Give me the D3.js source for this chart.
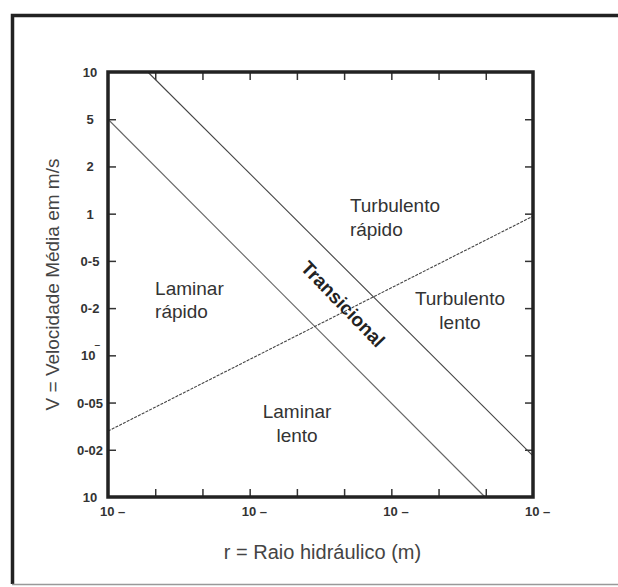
<!DOCTYPE html>
<html>
<head>
<meta charset="utf-8">
<script src="https://cdn.jsdelivr.net/npm/d3@7"></script>
<style>
  body { margin: 0; background: #fff; }
  svg { display: block; font-family: "Liberation Sans", Arial, Helvetica, sans-serif; }
</style>
</head>
<body>
<div id="chart"></div>
<script>
// r = hydraulic radius (m), V = mean velocity (m/s), both on log axes
const rDomain = [1e-4, 1e-1];
const vDomain = [0.01, 10];
const rTickLabels = ["10 –", "10 –", "10 –", "10 –"];
const vTickLabels = ["10", "5", "2", "1", "0-5", "0-2", "10", "0-05", "0-02", "10"];
const vTickSuperscript = [false, false, false, false, false, false, true, false, false, false];

const upperBoundary = [{ r: 1.91e-4, v: 10 }, { r: 0.1, v: 0.0195 }];
const lowerBoundary = [{ r: 1e-4, v: 4.64 }, { r: 0.0458, v: 0.01 }];
const froudeLine = [{ r: 1e-4, v: 0.0292 }, { r: 0.1, v: 0.96 }];

const regionLabels = [
  { lines: ["Turbulento", "rápido"], r: 5.1e-3, v: 1.02, anchor: "start" },
  { lines: ["Turbulento", "lento"], r: 3.05e-2, v: 0.226, anchor: "middle" },
  { lines: ["Laminar", "rápido"], r: 2.15e-4, v: 0.267, anchor: "start" },
  { lines: ["Laminar", "lento"], r: 2.16e-3, v: 0.0361, anchor: "middle" }
];
const transitionLabel = { text: "Transicional", r: 4.56e-3, v: 0.23 };

const width = 618;
const height = 587;
const plot = { left: 108, right: 533, top: 72, bottom: 497 };

const svg = d3.select("#chart")
  .append("svg")
  .attr("width", width)
  .attr("height", height);

// outer frame
svg.append("path")
  .attr("d", `M${width + 10},15.5 H12.5 V584`)
  .attr("fill", "none")
  .attr("stroke", "#222")
  .attr("stroke-width", 3.5);

svg.append("line")
  .attr("x1", 12).attr("x2", width + 10)
  .attr("y1", 584.5).attr("y2", 584.5)
  .attr("stroke", "#999")
  .attr("stroke-width", 1.5);

const x = d3.scaleLog().domain(rDomain).range([plot.left, plot.right]);
const y = d3.scaleLog().domain(vDomain).range([plot.bottom, plot.top]);

// evenly spaced thirds of a decade
const rTicks = d3.range(10).map(i => 10 ** (-4 + i / 3));
const vTicks = d3.range(10).map(i => 10 ** (1 - i / 3));
const rInner = rTicks.slice(1, -1);
const vInner = vTicks.slice(1, -1);

const tickStyle = g => {
  g.select(".domain").remove();
  g.selectAll(".tick line").attr("stroke", "#333").attr("stroke-width", 1.5);
  g.selectAll(".tick text").remove();
};

svg.append("g")
  .attr("transform", `translate(${plot.left},0)`)
  .call(d3.axisLeft(y).tickValues(vInner).tickSize(-8))
  .call(tickStyle);

svg.append("g")
  .attr("transform", `translate(${plot.right},0)`)
  .call(d3.axisRight(y).tickValues(vInner).tickSize(-8))
  .call(tickStyle);

svg.append("g")
  .attr("transform", `translate(0,${plot.top})`)
  .call(d3.axisTop(x).tickValues(rInner).tickSize(-8))
  .call(tickStyle);

svg.append("g")
  .attr("transform", `translate(0,${plot.bottom})`)
  .call(d3.axisBottom(x).tickValues(rInner).tickSize(-8))
  .call(tickStyle);

// y tick labels
const yLabels = svg.append("g")
  .attr("font-size", 13)
  .attr("font-weight", 700)
  .attr("fill", "#333")
  .attr("text-anchor", "middle")
  .selectAll("text")
  .data(vTicks)
  .join("text")
  .attr("x", plot.left - 18)
  .attr("y", d => y(d) + 5)
  .text((d, i) => vTickLabels[i]);

yLabels.filter((d, i) => vTickSuperscript[i])
  .append("tspan")
  .attr("dy", -6)
  .attr("font-size", 11)
  .text("‾");

// x tick labels (decades only)
svg.append("g")
  .attr("font-size", 13)
  .attr("font-weight", 700)
  .attr("fill", "#333")
  .selectAll("text")
  .data(rTicks.filter((d, i) => i % 3 === 0))
  .join("text")
  .attr("x", d => x(d) - 8)
  .attr("y", plot.bottom + 19)
  .text((d, i) => rTickLabels[i]);

// boundary lines
const line = d3.line().x(d => x(d.r)).y(d => y(d.v));

const chartArea = svg.append("g");

chartArea.append("path")
  .datum(upperBoundary)
  .attr("d", line)
  .attr("fill", "none")
  .attr("stroke", "#444")
  .attr("stroke-width", 1.1);

chartArea.append("path")
  .datum(lowerBoundary)
  .attr("d", line)
  .attr("fill", "none")
  .attr("stroke", "#666")
  .attr("stroke-width", 1.1);

chartArea.append("path")
  .datum(froudeLine)
  .attr("d", line)
  .attr("fill", "none")
  .attr("stroke", "#444")
  .attr("stroke-width", 1.1)
  .attr("stroke-dasharray", "3,1.2");

// plot frame
svg.append("rect")
  .attr("x", plot.left)
  .attr("y", plot.top)
  .attr("width", plot.right - plot.left)
  .attr("height", plot.bottom - plot.top)
  .attr("fill", "none")
  .attr("stroke", "#222")
  .attr("stroke-width", 3.5);

// region labels
const regions = svg.append("g")
  .attr("font-size", 19)
  .attr("fill", "#333")
  .selectAll("text")
  .data(regionLabels)
  .join("text")
  .attr("text-anchor", d => d.anchor)
  .attr("transform", d => `translate(${x(d.r)},${y(d.v)})`);

regions.selectAll("tspan")
  .data(d => d.lines)
  .join("tspan")
  .attr("x", 0)
  .attr("y", (d, i) => i * 23.5)
  .text(d => d);

svg.append("text")
  .attr("transform", `translate(${x(transitionLabel.r)},${y(transitionLabel.v)}) rotate(46)`)
  .attr("text-anchor", "middle")
  .attr("dy", "0.35em")
  .attr("font-size", 19)
  .attr("font-weight", 700)
  .attr("fill", "#222")
  .text(transitionLabel.text);

// axis titles
svg.append("text")
  .attr("x", (plot.left + plot.right) / 2 + 2)
  .attr("y", 559)
  .attr("text-anchor", "middle")
  .attr("font-size", 20)
  .attr("fill", "#444")
  .text("r = Raio hidráulico (m)");

svg.append("text")
  .attr("transform", `translate(59,${(plot.top + plot.bottom) / 2}) rotate(-90)`)
  .attr("text-anchor", "middle")
  .attr("font-size", 19)
  .attr("fill", "#444")
  .text("V = Velocidade Média em m/s");
</script>
</body>
</html>
